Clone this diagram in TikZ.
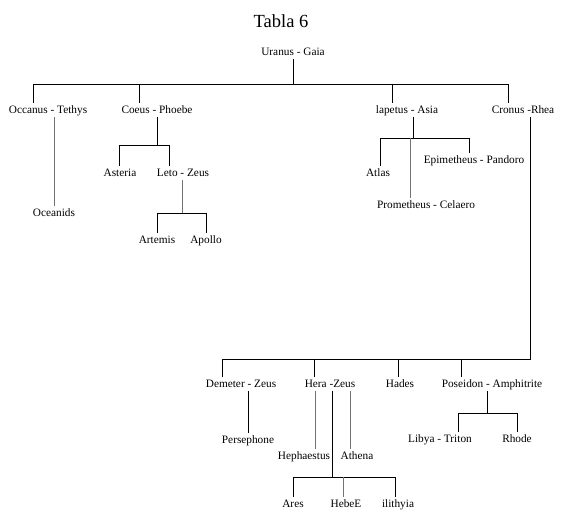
\documentclass[tikz,border=0pt]{standalone}
\usepackage{fontspec}
\setmainfont{Liberation Serif}
\begin{document}
\begin{tikzpicture}[x=1pt,y=-1pt,
  nm/.style={font=\fontsize{11.3}{13}\selectfont, inner sep=2pt, text height=9pt, text depth=1.5pt, anchor=center},
  ln/.style={line width=0.9pt, black},
  gl/.style={line width=0.9pt, black!55}]
\useasboundingbox (0,0) rectangle (561,518);
\fill[white] (0,0) rectangle (561,518);
\node[font=\fontsize{18.5}{20}\selectfont, inner sep=0pt] (title) at (281,21) {Tabla 6};
\node[nm] (uranus) at (293,52) {Uranus - Gaia};
\node[nm] (occ) at (48,110) {Occanus - Tethys};
\node[nm] (coeus) at (157,110) {Coeus - Phoebe};
\node[nm] (iap) at (407,110) {lapetus - Asia};
\node[nm] (cronus) at (523,110) {Cronus -Rhea};
\node[nm] (oceanids) at (54,213) {Oceanids};
\node[nm] (asteria) at (120,173) {Asteria};
\node[nm] (leto) at (183,173) {Leto - Zeus};
\node[nm] (artemis) at (157,240) {Artemis};
\node[nm] (apollo) at (206,240) {Apollo};
\node[nm] (atlas) at (378,173) {Atlas};
\node[nm] (epim) at (474,160) {Epimetheus - Pandoro};
\node[nm] (prom) at (426,205) {Prometheus - Celaero};
\node[nm] (demeter) at (241,384) {Demeter - Zeus};
\node[nm] (hera) at (330,384) {Hera -Zeus};
\node[nm] (hades) at (400,384) {Hades};
\node[nm] (pos) at (492,384) {Poseidon - Amphitrite};
\node[nm] (perse) at (248,440) {Persephone};
\node[nm] (heph) at (304,456) {Hephaestus};
\node[nm] (athena) at (357,456) {Athena};
\node[nm] (ares) at (293,504) {Ares};
\node[nm] (hebe) at (346,504) {HebeE};
\node[nm] (ilith) at (398,504) {ilithyia};
\node[nm] (libya) at (440,439) {Libya - Triton};
\node[nm] (rhode) at (517,439) {Rhode};
% Uranus - Gaia
\coordinate (u0) at (293,84);
\coordinate (uL) at (33,84);
\coordinate (uR) at (508,84);
\draw[ln] (uranus.south) -- (u0);
\draw[ln] (uL) -- (uR);
\draw[ln] (uL) -- (uL |- occ.north);
\draw[ln] (139,84) coordinate (uc) -- (uc |- coeus.north);
\draw[ln] (392,84) coordinate (ui) -- (ui |- iap.north);
\draw[ln] (uR) -- (uR |- cronus.north);
% Oceanus
\draw[gl] (54,0 |- occ.south) -- (oceanids.north);
% Coeus
\coordinate (c0) at (157,145);
\draw[ln] (c0 |- coeus.south) -- (c0);
\coordinate (cL) at (119,145);
\coordinate (cR) at (169,145);
\draw[ln] (cL |- asteria.north) -- (cL) -- (cR) -- (cR |- leto.north);
% Leto
\coordinate (l0) at (182,213);
\draw[gl] (l0 |- leto.south) -- (l0);
\coordinate (lL) at (157,213);
\coordinate (lR) at (206,213);
\draw[ln] (lL |- artemis.north) -- (lL) -- (lR) -- (lR |- apollo.north);
% Iapetus
\coordinate (i0) at (413,138);
\draw[ln] (i0 |- iap.south) -- (i0);
\coordinate (iL) at (380,138);
\coordinate (iR) at (469,138);
\draw[ln] (iL |- atlas.north) -- (iL) -- (iR) -- (iR |- epim.north);
\draw[gl] (410,138) coordinate (ip) -- (ip |- prom.north);
% Cronus
\coordinate (k0) at (530,359);
\coordinate (kL) at (222,359);
\draw[ln] (k0 |- cronus.south) -- (k0) -- (kL) -- (kL |- demeter.north);
\draw[ln] (314,359) coordinate (kh) -- (kh |- hera.north);
\draw[ln] (398,359) coordinate (kd) -- (kd |- hades.north);
\draw[ln] (461,359) coordinate (kp) -- (kp |- pos.north);
% Demeter
\draw[ln] (248,0 |- demeter.south) -- (perse.north);
% Hera
\draw[gl] (315,0 |- hera.south) coordinate (h1) -- (h1 |- heph.north);
\draw[gl] (350,0 |- hera.south) coordinate (h2) -- (h2 |- athena.north);
\coordinate (h0) at (332,477);
\draw[ln] (h0 |- hera.south) -- (h0);
\coordinate (hL) at (293,477);
\coordinate (hR) at (395,477);
\draw[ln] (hL |- ares.north) -- (hL) -- (hR) -- (hR |- ilith.north);
\draw[gl] (343,477) coordinate (hm) -- (hm |- hebe.north);
% Poseidon
\coordinate (p0) at (487,413);
\draw[ln] (p0 |- pos.south) -- (p0);
\coordinate (pL) at (458,413);
\coordinate (pR) at (517,413);
\draw[ln] (pL |- libya.north) -- (pL) -- (pR) -- (pR |- rhode.north);
\end{tikzpicture}
\end{document}
